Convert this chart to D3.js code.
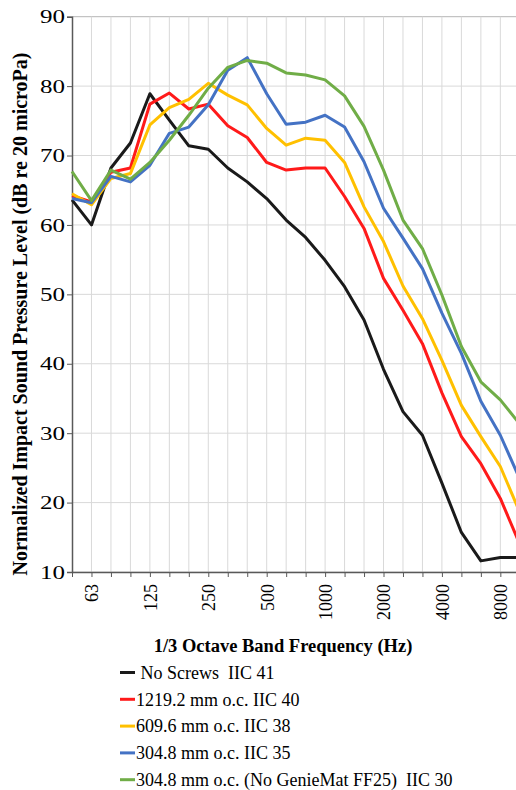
<!DOCTYPE html>
<html lang="en">
<head>
<meta charset="UTF-8">
<title>Impact Sound</title>
<script src="https://d3js.org/d3.v7.min.js"></script>
<style>
  body { margin: 0; background: #fff; }
  svg text { font-family: "Liberation Serif", "Times New Roman", serif; fill: #000; }
  .grid line { stroke: #d9d9d9; stroke-width: 1; }
  .axis path, .axis line { stroke: #595959; }
</style>
</head>
<body>
<svg id="chart" width="516" height="790"></svg>
<script>
// 1/3 octave bands, Hz
var bands = [50, 63, 80, 100, 125, 160, 200, 250, 315, 400, 500, 630, 800, 1000,
             1250, 1600, 2000, 2500, 3150, 4000, 5000, 6300, 8000, 10000];
var labelBands = [63, 125, 250, 500, 1000, 2000, 4000, 8000];
var yTicks = [10, 20, 30, 40, 50, 60, 70, 80, 90];

var noScrews  = [63.6, 60.0, 68.2, 71.8, 78.9, 75.1, 71.4, 70.9, 68.2, 66.2, 63.8, 60.7,
                 58.2, 54.9, 51.1, 46.3, 39.2, 33.1, 29.7, 22.8, 15.7, 11.6, 12.1, 12.1];
var oc1219    = [64.2, 63.3, 67.6, 68.2, 77.4, 79.0, 76.7, 77.4, 74.3, 72.6, 69.0, 67.9,
                 68.2, 68.2, 64.1, 59.5, 52.3, 47.7, 42.9, 35.8, 29.5, 25.6, 20.6, 14.0];
var oc609     = [64.5, 62.9, 66.7, 67.4, 74.4, 76.9, 78.1, 80.4, 78.7, 77.3, 73.9, 71.5,
                 72.5, 72.2, 69.0, 62.6, 57.6, 51.2, 46.5, 40.5, 34.0, 29.5, 25.2, 18.6];
var oc304     = [63.8, 63.2, 67.0, 66.2, 68.6, 73.2, 74.1, 77.3, 82.3, 84.1, 78.9, 74.5,
                 74.8, 75.8, 74.1, 69.1, 62.4, 58.1, 53.7, 47.3, 41.5, 34.6, 29.7, 23.4];
var oc304NoMat = [67.7, 63.5, 67.9, 66.6, 69.0, 72.2, 75.8, 79.7, 82.7, 83.7, 83.3, 81.9,
                 81.6, 80.9, 78.6, 74.2, 67.9, 60.7, 56.6, 49.9, 42.5, 37.4, 34.8, 31.3];

var seriesNames = [" No Screws  IIC 41", "1219.2 mm o.c. IIC 40", "609.6 mm o.c. IIC 38",
                   "304.8 mm o.c. IIC 35", "304.8 mm o.c. (No GenieMat FF25)  IIC 30"];
var seriesColors = ["#1a1a1a", "#ff1a1a", "#ffc000", "#4472c4", "#70ad47"];
var seriesValues = [noScrews, oc1219, oc609, oc304, oc304NoMat];

var svg = d3.select("#chart");
var margin = {left: 72, top: 16.7, bottom: 572};

var x = d3.scalePoint()
    .domain(bands)
    .range([margin.left, 519.8]);

var y = d3.scaleLinear()
    .domain([10, 90])
    .range([margin.bottom, margin.top]);

// gridlines
var grid = svg.append("g").attr("class", "grid");
grid.selectAll(".hg")
    .data(yTicks).enter()
    .append("line")
    .attr("x1", margin.left).attr("x2", 516)
    .attr("y1", function(d) { return y(d); })
    .attr("y2", function(d) { return y(d); })
    .style("stroke", function(d) { return d == 90 ? "#b5b5b5" : "#d9d9d9"; });
grid.selectAll(".vg")
    .data(bands.slice(1)).enter()
    .append("line")
    .attr("x1", function(d) { return x(d); })
    .attr("x2", function(d) { return x(d); })
    .attr("y1", margin.top).attr("y2", margin.bottom);

// y axis
var yAxis = svg.append("g")
    .attr("class", "axis")
    .attr("transform", "translate(" + margin.left + ",0)")
    .call(d3.axisLeft(y).tickValues(yTicks).tickSize(5).tickPadding(2));
yAxis.select(".domain").attr("stroke-width", 1.5);
yAxis.selectAll("text")
    .style("font-size", "19px")
    .attr("fill", "#000")
    .attr("textLength", 25)
    .attr("lengthAdjust", "spacingAndGlyphs");

// x axis
var xAxis = svg.append("g")
    .attr("class", "axis")
    .attr("transform", "translate(0," + margin.bottom + ")")
    .call(d3.axisBottom(x).tickSize(5).tickSizeOuter(0)
        .tickFormat(function(d) { return labelBands.indexOf(d) >= 0 ? d : ""; }));
xAxis.select(".domain").attr("stroke-width", 1.5);
xAxis.selectAll("text")
    .style("font-size", "18px")
    .attr("fill", "#000")
    .attr("text-anchor", "end")
    .attr("transform", "rotate(-90)")
    .attr("x", -12)
    .attr("y", 0)
    .attr("dy", "0.35em");

// lines
var line = d3.line()
    .x(function(d, i) { return x(bands[i]); })
    .y(function(d) { return y(d); });

seriesValues.forEach(function(vals, k) {
  svg.append("path")
      .datum(vals)
      .attr("fill", "none")
      .attr("stroke", seriesColors[k])
      .attr("stroke-width", 3)
      .attr("stroke-linejoin", "round")
      .attr("d", line);
});

// axis titles
svg.append("text")
    .attr("transform", "translate(26.5," + 314 + ") rotate(-90)")
    .attr("text-anchor", "middle")
    .style("font-size", "20px")
    .style("font-weight", "bold")
    .text("Normalized Impact Sound Pressure Level (dB re 20 microPa)");

svg.append("text")
    .attr("x", 283)
    .attr("y", 651.5)
    .attr("text-anchor", "middle")
    .style("font-size", "18.5px")
    .style("font-weight", "bold")
    .text("1/3 Octave Band Frequency (Hz)");

// legend
var legend = svg.append("g");
seriesNames.forEach(function(name, k) {
  var ly = 672.5 + k * 26.8;
  legend.append("line")
      .attr("x1", 120).attr("x2", 135)
      .attr("y1", ly).attr("y2", ly)
      .attr("stroke", seriesColors[k])
      .attr("stroke-width", 3);
  legend.append("text")
      .attr("x", 136)
      .attr("y", ly)
      .attr("dy", "0.35em")
      .style("font-size", "18px")
      .style("white-space", "pre")
      .text(name);
});
</script>
</body>
</html>
